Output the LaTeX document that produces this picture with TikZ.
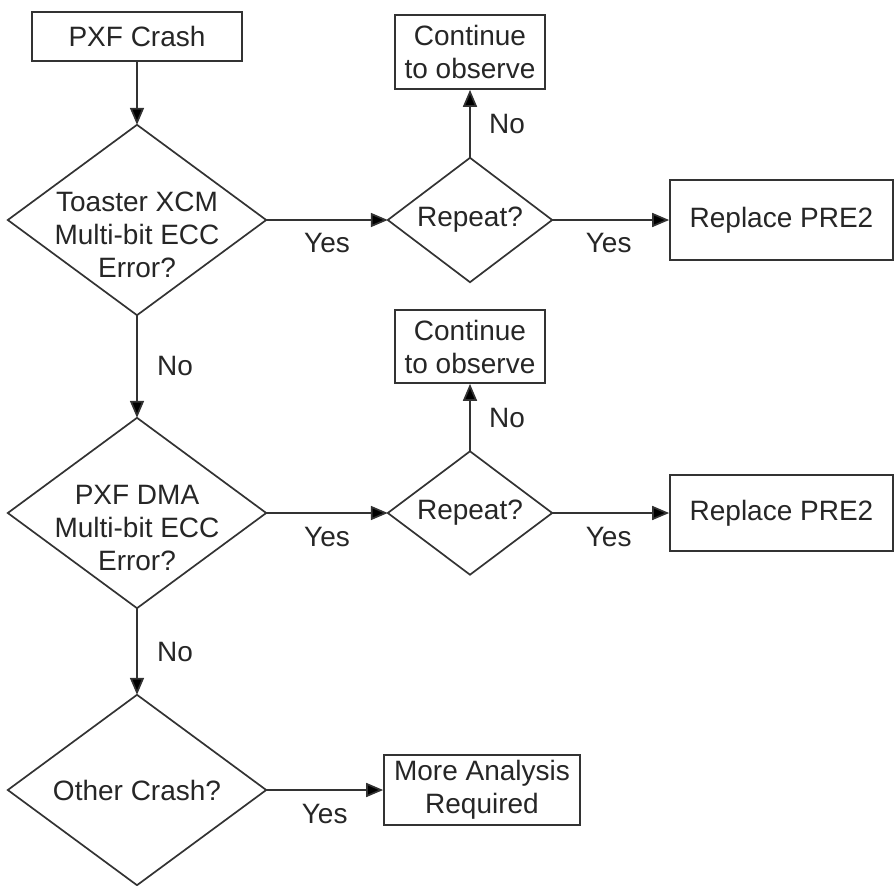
\documentclass[tikz,border=0pt]{standalone}
\usepackage{fontspec}
\setmainfont{Liberation Sans}
\usetikzlibrary{arrows.meta}
\begin{document}
\begin{tikzpicture}[x=1pt,y=-1pt,
  every node/.style={font=\fontsize{28}{33}\selectfont, text=black!85},
  line/.style={draw=black!80, line width=1.7pt},
  arr/.style={line, -{Triangle[length=17pt,width=14pt,fill=black]}},
  boxnode/.style={line, rectangle, inner sep=0pt, align=center},
  dianode/.style={rectangle, inner sep=0pt, minimum width=#1},
  txt/.style={align=center, inner sep=0pt},
  lbl/.style={inner sep=0pt}
]
\useasboundingbox (0,0) rectangle (895,886);

% boxes
\node[boxnode, minimum width=210pt, minimum height=49pt] (start) at (137,36.5) {PXF Crash};
\node[boxnode, minimum width=150pt, minimum height=74pt] (c1) at (470,52) {Continue\\to observe};
\node[boxnode, minimum width=223pt, minimum height=80pt] (p1) at (781.5,220) {Replace PRE2};
\node[boxnode, minimum width=150pt, minimum height=73pt] (c2) at (470,346.5) {Continue\\to observe};
\node[boxnode, minimum width=223pt, minimum height=76pt] (p2) at (781.5,513) {Replace PRE2};
\node[boxnode, minimum width=196pt, minimum height=70pt] (m) at (482,790) {More Analysis\\Required};

% diamonds
\node[dianode=258pt, minimum height=190pt,
  label={[txt,yshift=-15pt]center:Toaster XCM\\Multi-bit ECC\\Error?}] (d1) at (137,220) {};
\node[dianode=164pt, minimum height=124pt] (r1) at (470,220) {Repeat?};
\node[dianode=258pt, minimum height=190pt,
  label={[txt,yshift=-15pt]center:PXF DMA\\Multi-bit ECC\\Error?}] (d2) at (137,513) {};
\node[dianode=164pt, minimum height=123pt] (r2) at (470,513) {Repeat?};
\node[dianode=258pt, minimum height=190pt] (d3) at (137,790) {Other Crash?};

\foreach \n in {d1,r1,d2,r2,d3}
  \draw[line, line join=miter] (\n.north) -- (\n.east) -- (\n.south) -- (\n.west) -- cycle;

% connectors
\draw[arr] (start.south) -- (d1.north);
\draw[arr] (d1.east) -- node[lbl, yshift=-23pt] {Yes} (r1.west);
\draw[arr] (r1.north) -- node[lbl, xshift=37pt] {No} (c1.south);
\draw[arr] (r1.east) -- node[lbl, yshift=-23pt, xshift=-2pt] {Yes} (p1.west);
\draw[arr] (d1.south) -- node[lbl, xshift=38pt] {No} (d2.north);
\draw[arr] (d2.east) -- node[lbl, yshift=-24pt] {Yes} (r2.west);
\draw[arr] (r2.north) -- node[lbl, xshift=37pt] {No} (c2.south);
\draw[arr] (r2.east) -- node[lbl, yshift=-24pt, xshift=-2pt] {Yes} (p2.west);
\draw[arr] (d2.south) -- node[lbl, xshift=38pt] {No} (d3.north);
\draw[arr] (d3.east) -- node[lbl, yshift=-24pt] {Yes} (m.west);
\end{tikzpicture}
\end{document}
